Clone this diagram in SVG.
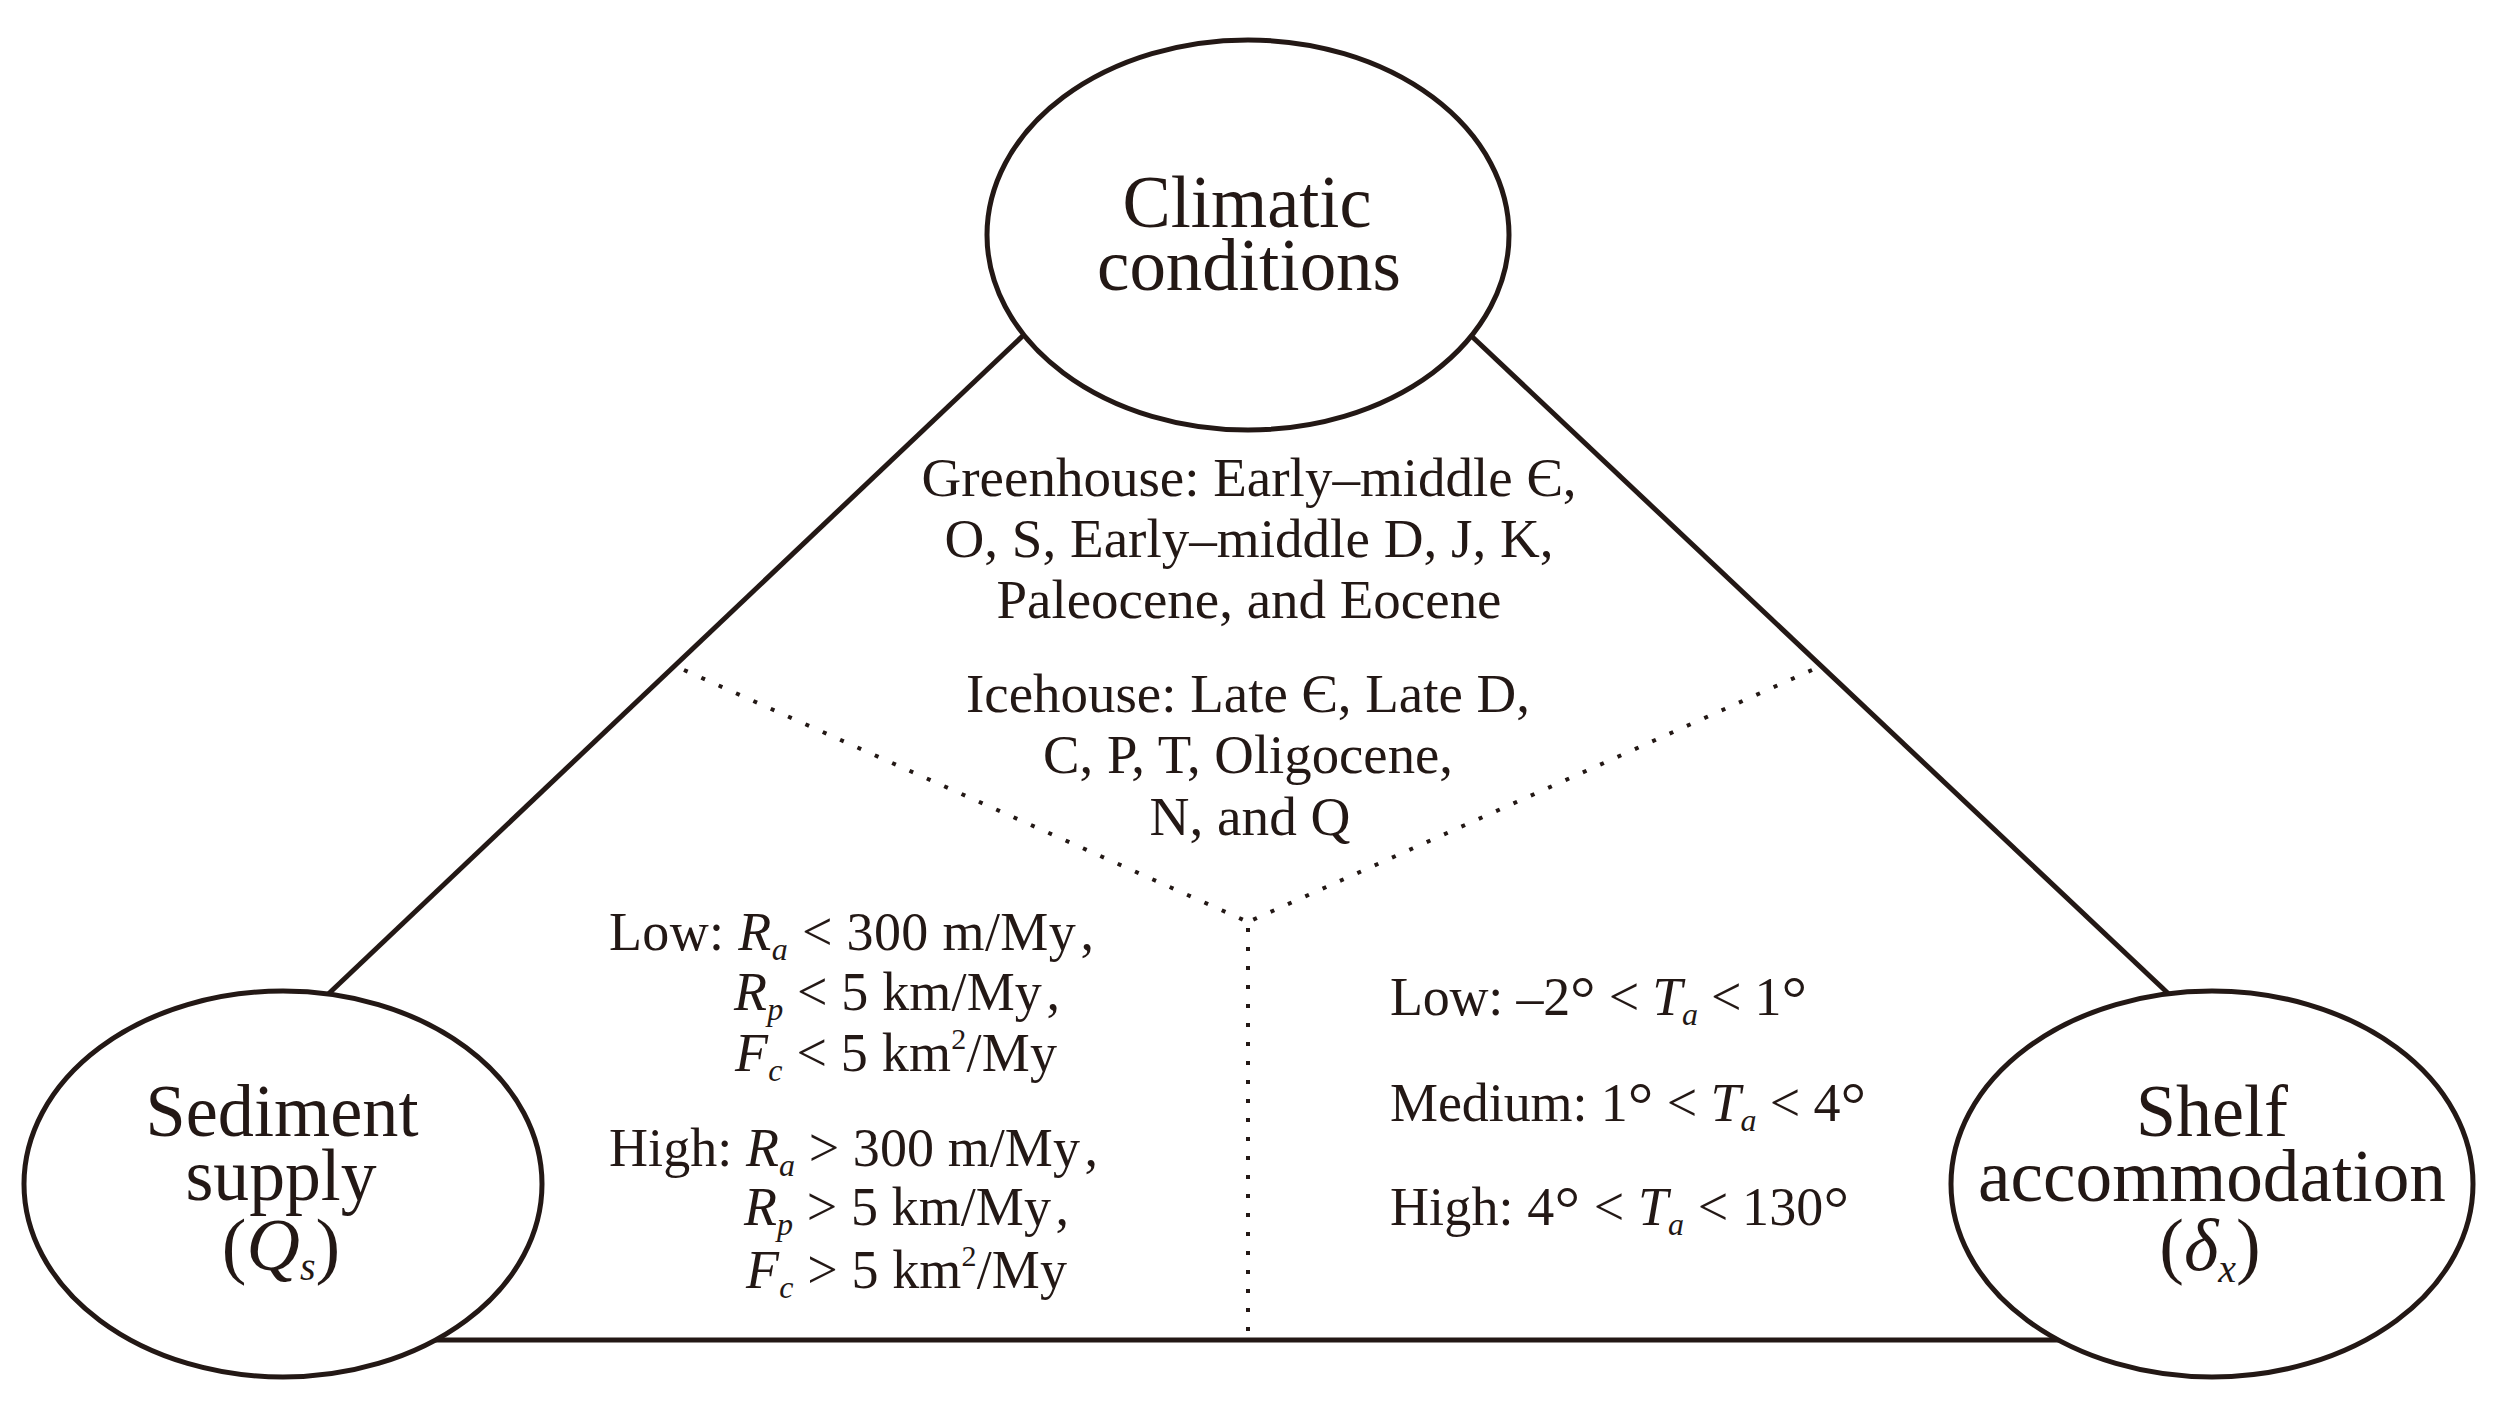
<svg xmlns="http://www.w3.org/2000/svg" width="2507" height="1418" viewBox="0 0 2507 1418">
<style>
.t{font-family:"Liberation Serif","Times New Roman",serif;fill:#231815}
.big{font-size:74px}
.mid{font-size:55px}
.sm{font-size:54px}
.i{font-style:italic}
.sub{font-style:italic;font-size:32px}
.sup{font-size:30px}
.deg{font-size:64px}
.node{fill:#ffffff;stroke:#231815;stroke-width:5}
.line{stroke:#231815;stroke-width:5;fill:none}
.dot{stroke:#231815;stroke-width:4;fill:none;stroke-dasharray:4 15}
</style>
<rect x="0" y="0" width="2507" height="1418" fill="#ffffff"/>
<g id="connectors">
<line class="line" x1="1030" y1="329" x2="322" y2="1000"/>
<line class="line" x1="1464" y1="329" x2="2173" y2="998"/>
<line class="line" x1="420" y1="1340" x2="2070" y2="1340"/>
<line class="dot" x1="684" y1="670" x2="1248" y2="922"/>
<line class="dot" x1="1812" y1="670" x2="1248" y2="922"/>
<line class="dot" x1="1248" y1="928" x2="1248" y2="1332"/>
</g>
<g id="node-climatic">
<ellipse class="node" cx="1248" cy="235" rx="261" ry="195"/>
<text class="t big" x="1247" y="227" text-anchor="middle" textLength="249" lengthAdjust="spacingAndGlyphs">Climatic</text>
<text class="t big" x="1249" y="290" text-anchor="middle" textLength="304" lengthAdjust="spacingAndGlyphs">conditions</text>
</g>
<g id="node-sediment">
<ellipse class="node" cx="283" cy="1184" rx="259" ry="193"/>
<text class="t big" x="282" y="1136" text-anchor="middle" textLength="273" lengthAdjust="spacingAndGlyphs">Sediment</text>
<text class="t big" x="281" y="1200" text-anchor="middle" textLength="191" lengthAdjust="spacingAndGlyphs">supply</text>
<text class="t big" x="281" y="1270" text-anchor="middle">(<tspan class="i">Q</tspan><tspan class="i" font-size="40" dy="10">s</tspan><tspan dy="-10">)</tspan></text>
</g>
<g id="node-shelf">
<ellipse class="node" cx="2212" cy="1184" rx="261" ry="193"/>
<text class="t big" x="2212" y="1136" text-anchor="middle" textLength="152" lengthAdjust="spacingAndGlyphs">Shelf</text>
<text class="t big" x="2212" y="1201" text-anchor="middle" textLength="468" lengthAdjust="spacingAndGlyphs">accommodation</text>
<text class="t big" x="2210" y="1270" text-anchor="middle">(<tspan class="i">δ</tspan><tspan class="i" font-size="40" dy="12">x</tspan><tspan dy="-12">)</tspan></text>
</g>
<g id="climate-periods">
<text class="t mid" x="1249" y="496" text-anchor="middle" textLength="655" lengthAdjust="spacingAndGlyphs">Greenhouse: Early–middle Є,</text>
<text class="t mid" x="1249" y="557" text-anchor="middle" textLength="609" lengthAdjust="spacingAndGlyphs">O, S, Early–middle D, J, K,</text>
<text class="t mid" x="1249" y="618" text-anchor="middle" textLength="505" lengthAdjust="spacingAndGlyphs">Paleocene, and Eocene</text>
<text class="t mid" x="1248" y="712" text-anchor="middle" textLength="564" lengthAdjust="spacingAndGlyphs">Icehouse: Late Є, Late D,</text>
<text class="t mid" x="1248" y="773" text-anchor="middle" textLength="410" lengthAdjust="spacingAndGlyphs">C, P, T, Oligocene,</text>
<text class="t mid" x="1250" y="835" text-anchor="middle" textLength="201" lengthAdjust="spacingAndGlyphs">N, and Q</text>
</g>
<g id="sediment-criteria">
<text class="t sm" x="609" y="950" textLength="485">Low: <tspan class="i">R</tspan><tspan class="sub" dy="10">a</tspan><tspan dy="-10"> &lt; 300 m/My</tspan><tspan dx="8">,</tspan></text>
<text class="t sm" x="734" y="1010" textLength="326"><tspan class="i">R</tspan><tspan class="sub" dy="10">p</tspan><tspan dy="-10"> &lt; 5 km/My</tspan><tspan dx="8">,</tspan></text>
<text class="t sm" x="735" y="1071" textLength="322"><tspan class="i">F</tspan><tspan class="sub" dy="10">c</tspan><tspan dy="-10"> &lt; 5 km</tspan><tspan class="sup" dy="-22">2</tspan><tspan dy="22">/My</tspan></text>
<text class="t sm" x="609" y="1166" textLength="489">High: <tspan class="i">R</tspan><tspan class="sub" dy="10">a</tspan><tspan dy="-10"> &gt; 300 m/My</tspan><tspan dx="8">,</tspan></text>
<text class="t sm" x="744" y="1225" textLength="325"><tspan class="i">R</tspan><tspan class="sub" dy="10">p</tspan><tspan dy="-10"> &gt; 5 km/My</tspan><tspan dx="8">,</tspan></text>
<text class="t sm" x="746" y="1288" textLength="321"><tspan class="i">F</tspan><tspan class="sub" dy="10">c</tspan><tspan dy="-10"> &gt; 5 km</tspan><tspan class="sup" dy="-22">2</tspan><tspan dy="22">/My</tspan></text>
</g>
<g id="accommodation-criteria">
<text class="t sm" x="1390" y="1015" textLength="417">Low: –2<tspan class="deg" dy="5">°</tspan><tspan dy="-5"> &lt; </tspan><tspan class="i">T</tspan><tspan class="sub" dy="10">a</tspan><tspan dy="-10"> &lt; 1</tspan><tspan class="deg" dy="5">°</tspan></text>
<text class="t sm" x="1390" y="1121" textLength="476">Medium: 1<tspan class="deg" dy="5">°</tspan><tspan dy="-5"> &lt; </tspan><tspan class="i">T</tspan><tspan class="sub" dy="10">a</tspan><tspan dy="-10"> &lt; 4</tspan><tspan class="deg" dy="5">°</tspan></text>
<text class="t sm" x="1390" y="1225" textLength="459">High: 4<tspan class="deg" dy="5">°</tspan><tspan dy="-5"> &lt; </tspan><tspan class="i">T</tspan><tspan class="sub" dy="10">a</tspan><tspan dy="-10"> &lt; 130</tspan><tspan class="deg" dy="5">°</tspan></text>
</g>
</svg>
